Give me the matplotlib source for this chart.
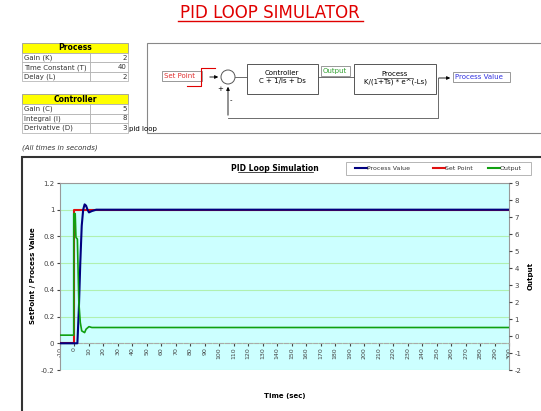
import numpy as np
import matplotlib
matplotlib.use('Agg')
from matplotlib import pyplot as plt
from matplotlib.patches import Rectangle, Circle

# Data (time in seconds)
t_pv   = [-10, 0, 2, 3, 4, 5, 6, 7, 8, 9, 10, 12, 15, 20, 300]
pv     = [0, 0, 0, 0.25, 0.6, 0.88, 1.0, 1.04, 1.03, 1.0, 0.98, 0.99, 1.0, 1.0, 1.0]
t_sp   = [-10, -0.5, -0.5, 300]
sp     = [0, 0, 1, 1]
t_out  = [-10, -0.5, -0.5, 0.5, 1, 2, 3, 4, 5, 6, 7, 8, 10, 12, 20, 300]
out    = [0.05, 0.05, 7.2, 7.2, 5.8, 5.7, 2.0, 0.8, 0.3, 0.25, 0.2, 0.4, 0.55, 0.5, 0.5, 0.5]

proc_rows = [('Gain (K)', '2'), ('Time Constant (T)', '40'), ('Delay (L)', '2')]
ctrl_rows = [('Gain (C)', '5'), ('Integral (I)', '8'), ('Derivative (D)', '3')]

W, H = 541, 411
fig = plt.figure(figsize=(W / 100, H / 100), dpi=100)

# overlay in pixel coordinates for the sheet decorations
bg = fig.add_axes([0, 0, 1, 1])
bg.set_xlim(0, W)
bg.set_ylim(H, 0)
bg.axis('off')

bg.text(270, 13, 'PID LOOP SIMULATOR', color='#e00000', fontsize=12,
        ha='center', va='center')
bg.plot([178, 363], [21, 21], color='#e00000', lw=1)


def table(y0, title, rows):
    bg.add_patch(Rectangle((22, y0), 106, 10, fc='#ffff00', ec='#999999', lw=0.6))
    bg.text(75, y0 + 5, title, fontsize=5.5, weight='bold', ha='center', va='center')
    for i, (lab, val) in enumerate(rows):
        y = y0 + 10 + i * 9.5
        bg.add_patch(Rectangle((22, y), 68, 9.5, fc='white', ec='#aaaaaa', lw=0.5))
        bg.add_patch(Rectangle((90, y), 38, 9.5, fc='white', ec='#aaaaaa', lw=0.5))
        bg.text(24, y + 4.8, lab, fontsize=5, va='center', color='#333333')
        bg.text(127, y + 4.8, val, fontsize=5, va='center', ha='right', color='#333333')


table(43, 'Process', proc_rows)
table(94, 'Controller', ctrl_rows)
bg.text(129, 129, 'pid loop', fontsize=5, va='center')
bg.text(22, 148, '(All times in seconds)', fontsize=5, style='italic',
        va='center', color='#333333')

# block diagram
bg.add_patch(Rectangle((147, 43), 400, 90, fc='white', ec='#888888', lw=0.8))
bg.add_patch(Rectangle((162, 71), 40, 10, fc='white', ec='#888888', lw=0.6))
bg.text(164, 76, 'Set Point', fontsize=5, color='#e03030', va='center')
bg.plot([187, 201, 201, 215], [86, 86, 68, 68], color='#e00000', lw=0.8)
bg.annotate('', xy=(221, 77), xytext=(207, 77),
            arrowprops=dict(arrowstyle='-|>', lw=0.6, color='k', mutation_scale=5))
bg.add_patch(Circle((228, 77), 7, fc='white', ec='#555555', lw=0.7))
bg.text(220, 89, '+', fontsize=5, ha='center', va='center')
bg.text(231, 100, '-', fontsize=5, ha='center', va='center')
bg.plot([235, 247], [77, 77], color='#555555', lw=0.6)
bg.add_patch(Rectangle((247, 64), 71, 30, fc='white', ec='#555555', lw=0.7))
bg.text(282, 73, 'Controller', fontsize=5, ha='center', va='center')
bg.plot([266, 298], [77, 77], color='k', lw=0.4)
bg.text(282, 81, 'C + 1/Is + Ds', fontsize=5, ha='center', va='center')
bg.plot([318, 354], [77, 77], color='#555555', lw=0.6)
bg.add_patch(Rectangle((321, 66), 29, 10, fc='white', ec='#888888', lw=0.6))
bg.text(323, 71, 'Output', fontsize=5, color='#30a030', va='center')
bg.add_patch(Rectangle((354, 64), 82, 30, fc='white', ec='#555555', lw=0.7))
bg.text(395, 74, 'Process', fontsize=5, ha='center', va='center')
bg.plot([377, 413], [78, 78], color='k', lw=0.4)
bg.text(395, 82, 'K/(1+Ts) * e^(-Ls)', fontsize=5, ha='center', va='center')
bg.annotate('', xy=(453, 78), xytext=(436, 78),
            arrowprops=dict(arrowstyle='-|>', lw=0.6, color='k', mutation_scale=5))
bg.add_patch(Rectangle((453, 72), 57, 10, fc='white', ec='#888888', lw=0.6))
bg.text(455, 77, 'Process Value', fontsize=5, color='#3030e0', va='center')
bg.plot([438, 438, 228], [78, 118, 118], color='#555555', lw=0.6)
bg.annotate('', xy=(228, 84), xytext=(228, 118),
            arrowprops=dict(arrowstyle='-|>', lw=0.6, color='k', mutation_scale=5))

# chart frame, title and legend
bg.add_patch(Rectangle((22, 157), 530, 260, fc='white', ec='#333333', lw=1.5))
bg.text(275, 168, 'PID Loop Simulation', fontsize=5.5, weight='bold',
        ha='center', va='center')
bg.plot([238, 313], [172, 172], color='k', lw=0.5)
bg.add_patch(Rectangle((346, 162), 185, 13, fc='white', ec='#aaaaaa', lw=0.6))
for x0, name, c in [(355, 'Process Value', '#000080'), (433, 'Set Point', '#e01010'),
                    (488, 'Output', '#10a010')]:
    bg.plot([x0, x0 + 12], [168, 168], color=c, lw=1.5)
    bg.text(x0 + 12, 168, name, fontsize=4.5, va='center', color='#333333')
bg.text(285, 396, 'Time (sec)', fontsize=5, weight='bold', ha='center', va='center')
bg.text(33, 276, 'SetPoint / Process Value', fontsize=5, weight='bold',
        rotation=90, ha='center', va='center')
bg.text(531, 276, 'Output', fontsize=5, weight='bold', rotation=90,
        ha='center', va='center')

# main chart
ax = fig.add_axes([60 / W, 1 - 370 / H, 449 / W, 187 / H])
ax.set_facecolor('#ccffff')
ax.set_xlim(-10, 300)
ax.set_ylim(-0.2, 1.2)
ax.spines['bottom'].set_position(('data', 0))
ax.spines['bottom'].set_color('#aaaaaa')
ax.spines['bottom'].set_linestyle('--')
for s in ['top', 'left', 'right']:
    ax.spines[s].set_color('#999999')
ax.grid(axis='y', color='#b0f0b0', lw=0.8)
ax.plot(t_sp, sp, color='#e01010', lw=1.5, zorder=3)
ax.plot(t_pv, pv, color='#000080', lw=1.5, zorder=4)

ax2 = ax.twinx()
ax2.set_ylim(-2, 9)
for s in ax2.spines.values():
    s.set_visible(False)
ax2.plot(t_out, out, color='#10a010', lw=1.2, zorder=2)

xt = list(range(-10, 301, 10))
ax.set_xticks(xt)
ax.set_xticklabels([str(v) for v in xt], fontsize=4.5, rotation=90)
ax.tick_params(axis='x', length=2, pad=1, colors='#444444')
yt = [-0.2, 0, 0.2, 0.4, 0.6, 0.8, 1, 1.2]
ax.set_yticks(yt)
ax.set_yticklabels(['-0.2', '0', '0.2', '0.4', '0.6', '0.8', '1', '1.2'], fontsize=5)
ax.tick_params(axis='y', length=2, pad=2, colors='#444444')
rt = list(range(-2, 10))
ax2.set_yticks(rt)
ax2.set_yticklabels([str(v) for v in rt], fontsize=5)
ax2.tick_params(axis='y', length=2, pad=2, colors='#444444')

fig.savefig('out.png', dpi=100)
